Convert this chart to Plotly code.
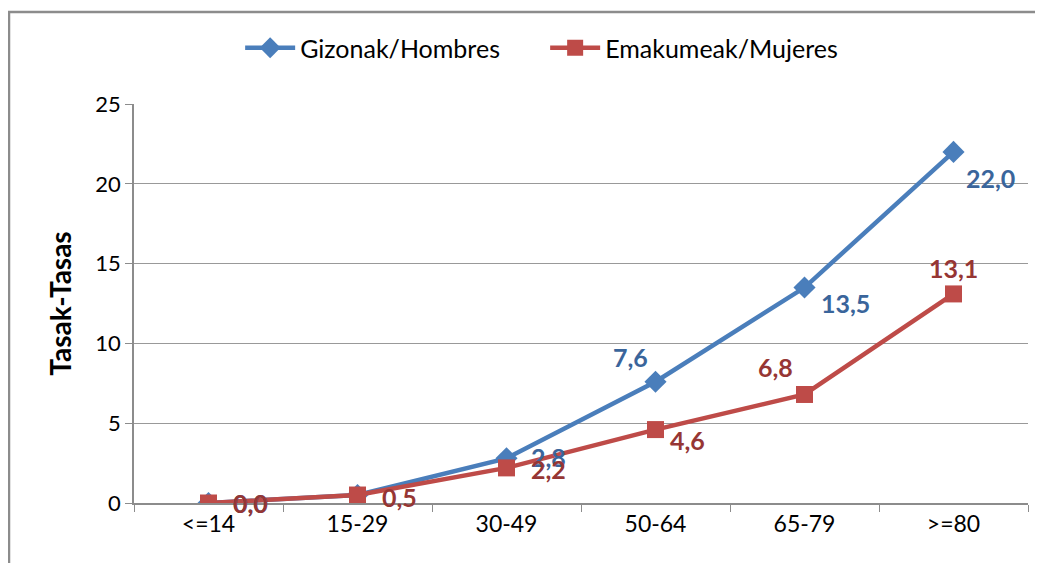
import plotly.graph_objects as go

categories = ["<=14", "15-29", "30-49", "50-64", "65-79", ">=80"]
hombres = [0.0, 0.5, 2.8, 7.6, 13.5, 22.0]
mujeres = [0.0, 0.5, 2.2, 4.6, 6.8, 13.1]
hombres_labels = ["0,0", "0,5", "2,8", "7,6", "13,5", "22,0"]
mujeres_labels = ["0,0", "0,5", "2,2", "4,6", "6,8", "13,1"]
y_ticks = [0, 5, 10, 15, 20, 25]

BLUE = "#4A7EBB"
RED = "#BE4B48"
BLUE_T = "#3A659B"
RED_T = "#963634"
FONT = "Lato, 'Open Sans', sans-serif"

fig = go.Figure()
fig.add_trace(go.Scatter(
    x=categories, y=hombres, mode="lines+markers", name="Gizonak/Hombres",
    line=dict(color=BLUE, width=4.5),
    marker=dict(symbol="diamond", size=17, color=BLUE),
))
fig.add_trace(go.Scatter(
    x=categories, y=mujeres, mode="lines+markers", name="Emakumeak/Mujeres",
    line=dict(color=RED, width=4.5),
    marker=dict(symbol="square", size=17, color=RED),
))

# label offsets (pixels)
h_off = [(42, 0), (42, -1), (42, 1), (-25, 25), (41, -15), (37, -26)]
m_off = [(42, 0), (42, -2), (42, -1), (32, -10), (-29, 27), (0, 26)]
for i, c in enumerate(categories):
    if i == 1:
        continue  # hidden behind the other series' label in the reference
    dx, dy = h_off[i]
    fig.add_annotation(x=c, y=hombres[i], text=hombres_labels[i], showarrow=False,
                       xshift=dx, yshift=dy,
                       font=dict(family=FONT, size=25, color=BLUE_T, weight="bold"))
for i, c in enumerate(categories):
    dx, dy = m_off[i]
    fig.add_annotation(x=c, y=mujeres[i], text=mujeres_labels[i], showarrow=False,
                       xshift=dx, yshift=dy,
                       font=dict(family=FONT, size=25, color=RED_T, weight="bold"))

L, R, T, B = 126, 23, 96, 68
PW, PH = 1043 - L - R, 563 - T - B

# outer chart frame (left and top edges visible)
fig.add_shape(type="rect", xref="paper", yref="paper",
              x0=(1 - L) / PW, y0=-0.3, x1=1.1, y1=(PH + T - 4) / PH,
              line=dict(color="#8C8C8C", width=2.5), layer="below")

fig.update_layout(
    width=1043, height=563,
    margin=dict(l=L, r=R, t=T, b=B, autoexpand=False),
    paper_bgcolor="white", plot_bgcolor="white",
    font=dict(family=FONT, size=22, color="#000000"),
    showlegend=True,
    legend=dict(orientation="h", xref="container", yref="container",
                x=0.515, xanchor="center", y=1 - 40 / 563, yanchor="middle",
                bgcolor="rgba(0,0,0,0)", itemwidth=50, entrywidth=240,
                font=dict(family=FONT, size=25), tracegroupgap=0),
    xaxis=dict(type="category", range=[-0.5, 5.5], showgrid=False,
               showline=True, linecolor="#8C8C8C", linewidth=1.5,
               ticks="outside", tickson="boundaries", ticklen=7, tickcolor="#8C8C8C",
               tickfont=dict(family=FONT, size=23)),
    yaxis=dict(range=[0, 25], tickvals=y_ticks, showgrid=True, gridcolor="#999999", gridwidth=1.2,
               showline=True, linecolor="#8C8C8C", linewidth=1.5, zeroline=False,
               ticks="outside", ticklen=7, tickcolor="#8C8C8C",
               tickfont=dict(family=FONT, size=22),
               title=dict(text="<b>Tasak-Tasas</b>", font=dict(family=FONT, size=28), standoff=16)),
)

fig.write_html("out.html")
